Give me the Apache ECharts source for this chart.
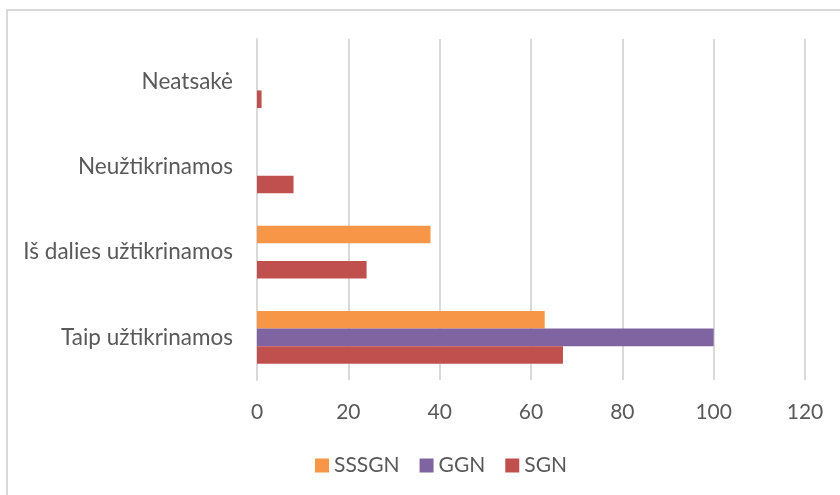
<!DOCTYPE html>
<html>
<head>
<meta charset="utf-8">
<script src="https://cdn.jsdelivr.net/npm/echarts@6/dist/echarts.min.js"></script>
<style>
  html, body { margin: 0; padding: 0; background: #fff; overflow: hidden; }
  #wrap { position: relative; width: 840px; height: 495px; overflow: hidden; }
  #frame { position: absolute; left: 6px; top: 9px; width: 900px; height: 600px;
           border: 2px solid #d9d9d9; box-sizing: border-box; }
  #main { position: absolute; left: 0; top: 0; width: 840px; height: 495px; }
</style>
</head>
<body>
<div id="wrap">
  <div id="frame"></div>
  <div id="main"></div>
</div>
<script>
// kategorijos (iš apačios į viršų)
var categories = ['Taip užtikrinamos', 'Iš dalies užtikrinamos', 'Neužtikrinamos', 'Neatsakė'];
var sgn = [67, 24, 8, 1];
var ggn = [100, 0, 0, 0];
var sssgn = [63, 38, 0, 0];
var xTicks = [0, 20, 40, 60, 80, 100, 120];

var font = 'Lato, "Open Sans", sans-serif';

var chart = echarts.init(document.getElementById('main'));

var option = {
  animation: false,
  textStyle: { fontFamily: font },
  grid: { left: 257, right: 35, top: 39, bottom: 115, containLabel: false },
  legend: {
    bottom: 14,
    left: 310,
    itemWidth: 14,
    itemHeight: 14,
    itemGap: 20,
    icon: 'rect',
    textStyle: { color: '#595959', fontSize: 21, fontFamily: font },
    data: ['SSSGN', 'GGN', 'SGN']
  },
  xAxis: {
    type: 'value',
    min: xTicks[0],
    max: xTicks[xTicks.length - 1],
    interval: 20,
    axisLine: { show: false },
    axisTick: { show: false },
    axisLabel: { color: '#595959', fontSize: 21, margin: 22 },
    splitLine: { lineStyle: { color: '#d9d9d9', width: 2 } }
  },
  yAxis: {
    type: 'category',
    data: categories,
    axisLine: { show: true, lineStyle: { color: '#d9d9d9', width: 2 } },
    axisTick: { show: false },
    axisLabel: { color: '#595959', fontSize: 22.5, margin: 24 }
  },
  // eilės tvarka: SSSGN viršuje, SGN apačioje
  series: [
    {
      name: 'SSSGN',
      type: 'bar',
      data: sssgn,
      itemStyle: { color: '#f79646' },
      barGap: '0%',
      barCategoryGap: '38%'
    },
    {
      name: 'GGN',
      type: 'bar',
      data: ggn,
      itemStyle: { color: '#8064a2' }
    },
    {
      name: 'SGN',
      type: 'bar',
      data: sgn,
      itemStyle: { color: '#c0504d' }
    }
  ]
};

chart.setOption(option);
</script>
</body>
</html>
